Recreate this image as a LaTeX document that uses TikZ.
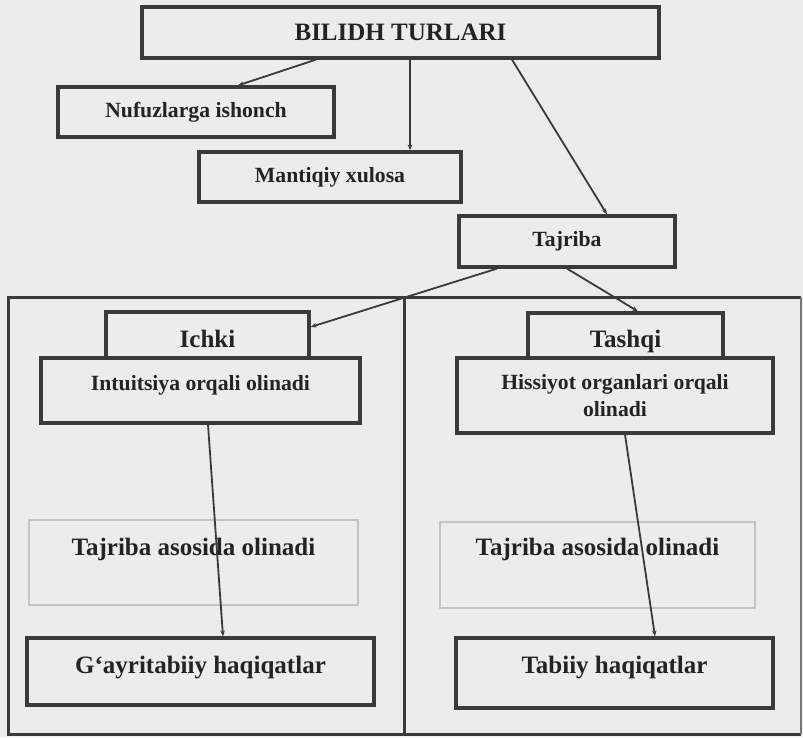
\documentclass[tikz,border=0pt]{standalone}
\usepackage{fontspec}
\setmainfont{Liberation Serif}
\usepackage{xcolor}
\usepackage{tikz}
\usetikzlibrary{positioning, arrows.meta, calc, backgrounds}

\definecolor{paper}{HTML}{ECECEC}
\definecolor{ink}{HTML}{3A3A3A}
\definecolor{pale}{HTML}{C4C4C4}

\begin{document}
\begin{tikzpicture}[
    x=1pt, y=-1pt,
    >={Stealth[length=6pt, width=4.5pt]},
    bigfont/.style={font=\bfseries\fontsize{25}{28}\selectfont},
    smallfont/.style={font=\bfseries\fontsize{21.7}{27}\selectfont},
    mainbox/.style={rectangle, draw=ink, line width=3.2pt, inner sep=0pt, text=ink!60!black},
    palebox/.style={rectangle, draw=pale, line width=1.2pt, inner sep=0pt, text=ink!60!black},
    panel/.style={draw=ink, line width=3pt},
    link/.style={->, draw=ink, line width=1.8pt}
]

% Page
\fill[paper] (0,0) rectangle (803,737);
\useasboundingbox (0,0) rectangle (803,737);

% Two lower panels
\draw[panel] (8,297) rectangle (404,734);
\draw[panel] (404,297) -- (801,297);
\draw[panel] (404,734) -- (801,734);
\draw[draw=ink!70, line width=1.4pt] (801,297) -- (801,734);

% Upper part
\node[mainbox, bigfont, minimum width=517, minimum height=51] (top) at (400.5,32.5) {BILIDH TURLARI};
\node[mainbox, smallfont, minimum width=276, minimum height=50] (nufuz) at (196,112) {Nufuzlarga ishonch};
\node[mainbox, smallfont, minimum width=262, minimum height=50] (mantiq) at (330,177) {Mantiqiy xulosa};
\node[mainbox, smallfont, minimum width=216, minimum height=51] (tajriba) at (567,241.5) {Tajriba};

% Left panel
\node[mainbox, bigfont, minimum width=203, minimum height=46, text height=25pt, text depth=1pt] (ichki) at (207.5,335) {Ichki};
\node[mainbox, smallfont, minimum width=319, minimum height=65, text height=22pt, text depth=22pt] (intuit) at (200.5,390.5) {Intuitsiya orqali olinadi};
\node[palebox, bigfont, minimum width=329, minimum height=85, text height=35pt, text depth=50pt] (tajleft) at (193.5,562.5) {Tajriba asosida olinadi};
\node[mainbox, bigfont, minimum width=347, minimum height=67, text height=25pt, text depth=22pt] (gayri) at (200.5,671.5) {G‘ayritabiiy haqiqatlar};

% Right panel
\node[mainbox, bigfont, minimum width=195, minimum height=45, text height=25pt, text depth=1pt] (tashqi) at (625.5,335.5) {Tashqi};
\node[mainbox, smallfont, minimum width=316, minimum height=75, align=center] (hissiy) at (615,395.5) {Hissiyot organlari orqali\\olinadi};
\node[palebox, bigfont, minimum width=315, minimum height=86, text height=33pt, text depth=53pt] (tajright) at (597.5,565) {Tajriba asosida olinadi};
\node[mainbox, bigfont, minimum width=317, minimum height=70, text height=20pt, text depth=20pt] (tabiiy) at (614.5,673) {Tabiiy haqiqatlar};

% Arrows from the top box
\draw[link] ([xshift=-84.5pt]top.south) -- ([xshift=42pt]nufuz.north);
\draw[link] ([xshift=9.5pt]top.south) -- ([xshift=9.5pt]top.south |- mantiq.north);
\draw[link] ([xshift=111.5pt]top.south) -- ([xshift=40pt]tajriba.north);

% Arrows from Tajriba
\draw[link] ([xshift=-70pt]tajriba.south) -- ([yshift=8pt]ichki.east);
\draw[link] (tajriba.south) -- ([xshift=12.5pt]tashqi.north);

% Arrows down to the truths
\draw[link] ([xshift=7.5pt]intuit.south) -- ([xshift=22.5pt]gayri.north);
\draw[link] ([xshift=10pt]hissiy.south) -- ([xshift=40.5pt]tabiiy.north);

\end{tikzpicture}
\end{document}
